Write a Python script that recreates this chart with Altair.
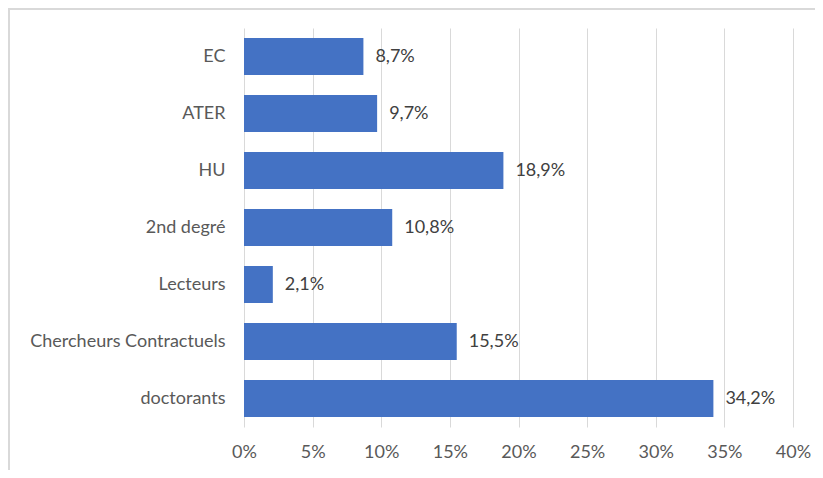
import altair as alt
import pandas as pd

categories = ["EC", "ATER", "HU", "2nd degré", "Lecteurs", "Chercheurs Contractuels", "doctorants"]
values = [8.7, 9.7, 18.9, 10.8, 2.1, 15.5, 34.2]
labels = ["8,7%", "9,7%", "18,9%", "10,8%", "2,1%", "15,5%", "34,2%"]
ticks = [0, 5, 10, 15, 20, 25, 30, 35, 40]

df = pd.DataFrame({"cat": categories, "val": values, "lab": labels})

FONT = "Lato"
FS = 18
GREY = "#595959"

x = alt.X("val:Q", scale=alt.Scale(domain=[0, 40], nice=False),
          axis=alt.Axis(values=ticks, labelExpr="datum.value + '%'", title=None,
                        grid=True, gridColor="#d9d9d9", gridWidth=1, domain=False,
                        ticks=False, labelPadding=16, labelFont=FONT, labelFontSize=FS,
                        labelColor=GREY, labelAlign="center", labelFlush=False))
y = alt.Y("cat:N", sort=categories,
          scale=alt.Scale(paddingInner=0.35, paddingOuter=0.175),
          axis=alt.Axis(title=None, domain=False, ticks=False, labelPadding=19,
                        labelFont=FONT, labelFontSize=FS, labelColor=GREY,
                        labelLimit=400))

bars = alt.Chart(df).mark_bar(color="#4472C4").encode(x=x, y=y)
text = alt.Chart(df).mark_text(align="left", dx=12, font=FONT, fontSize=FS,
                               color="#404040").encode(
    x=alt.X("val:Q"), y=alt.Y("cat:N", sort=categories), text="lab:N")

border_left = alt.Chart(df).mark_rule(color="#d9d9d9", strokeWidth=1.5).encode(
    x=alt.value(-235), y=alt.value(-20), y2=alt.value(460))
border_top = alt.Chart(df).mark_rule(color="#d9d9d9", strokeWidth=1.5).encode(
    x=alt.value(-235), x2=alt.value(600), y=alt.value(-19))

chart = alt.layer(border_left, border_top, bars, text).properties(
    width=549, height=399,
    autosize=alt.AutoSizeParams(type="none"),
    padding={"left": 236, "top": 20, "right": 22, "bottom": 43},
).configure_view(stroke=None)

chart.save("out.html", embed_options={"renderer": "svg", "actions": False})
